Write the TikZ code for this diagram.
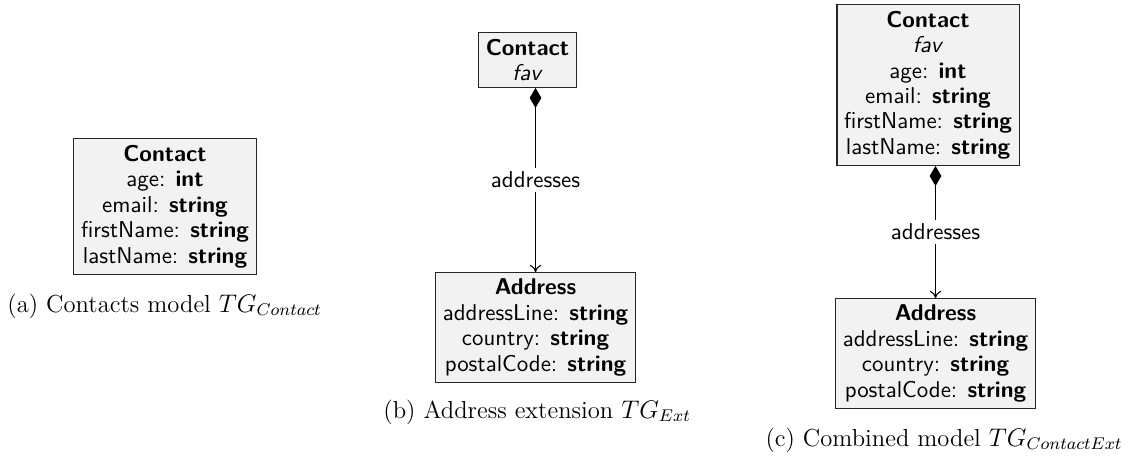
\documentclass[tikz,border=0pt]{standalone}
\usetikzlibrary{arrows.meta}
\begin{document}
\begin{tikzpicture}[x=0.4717pt,y=-0.4717pt,
  cls/.style={draw=black!85,fill=black!5,line width=0.5pt,align=center,font=\fontsize{10.8}{12}\selectfont\sffamily,inner xsep=3.33pt,inner ysep=3pt},
  captxt/.style={anchor=base west,font=\fontsize{11.6}{13.5}\selectfont\rmfamily,inner sep=0pt},
  assoc/.style={draw=black,line width=0.5pt,{Diamond[length=9.5pt,width=5.5pt]}-{To[length=3.5pt,width=5.5pt]}},
  lbl/.style={fill=white,font=\fontsize{10.8}{12}\selectfont\sffamily,inner sep=2pt}]
\useasboundingbox (0,0) rectangle (1131,459);
% (a)
\node[cls] (c1) at (165,206.5) {\textbf{Contact}\\age: \textbf{int}\\email: \textbf{string}\\firstName: \textbf{string}\\lastName: \textbf{string}};
\node[captxt] (capa) at (7,312) {(a) Contacts model $TG_{Contact}$};
% (b)
\node[cls] (c2) at (527.5,60) {\textbf{Contact}\\\textit{fav}};
\node[cls] (a2) at (535.5,327.5) {\textbf{Address}\\addressLine: \textbf{string}\\country: \textbf{string}\\postalCode: \textbf{string}};
\draw[assoc] (a2.north |- c2.south) -- node[lbl] (l2) {addresses} (a2.north);
\node[captxt] (capb) at (383,418) {(b) Address extension $TG_{Ext}$};
% (c)
\node[cls] (c3) at (928,85) {\textbf{Contact}\\\textit{fav}\\age: \textbf{int}\\email: \textbf{string}\\firstName: \textbf{string}\\lastName: \textbf{string}};
\node[cls] (a3) at (935.5,353.5) {\textbf{Address}\\addressLine: \textbf{string}\\country: \textbf{string}\\postalCode: \textbf{string}};
\draw[assoc] (a3.north |- c3.south) -- node[lbl] (l3) {addresses} (a3.north);
\node[captxt,anchor=base east] (capc) at (1123,446) {(c) Combined model $TG_{ContactExt}$};
\end{tikzpicture}
\end{document}
